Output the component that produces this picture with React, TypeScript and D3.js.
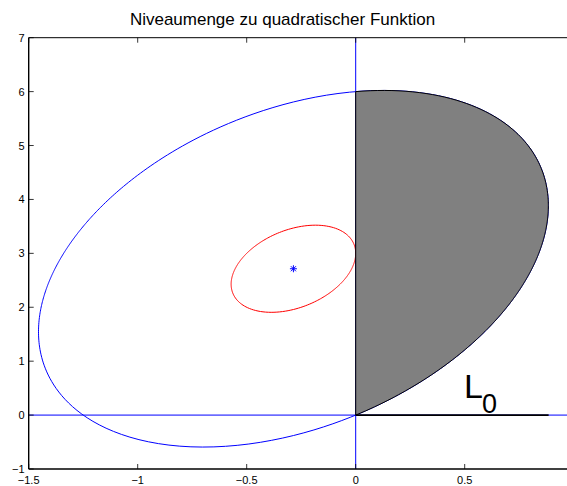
import React from "react";
import * as d3 from "d3";

// Quadratic f(x) = 1/2 x^T Q x + c^T x
const Q: number[][] = [
  [8, -1],
  [-1, 1],
];
const cVec: number[] = [5, -3];

// Level values drawn as contours
const outerLevel = 0; // blue: f = f(0)
const innerLevel = -4.5; // red: f at the constrained minimum on x1 = 0

// Right end of the L0 segment on the x-axis
const l0End = 0.885;

const xTicks: number[] = [-1.5, -1, -0.5, 0, 0.5];
const yTicks: number[] = [-1, 0, 1, 2, 3, 4, 5, 6, 7];
const xDomain: [number, number] = [-1.5, 1];
const yDomain: [number, number] = [-1, 7];

const W = 567;
const H = 486;
const left = 28.7;
const top = 37.7;
const bottom = 469;
const right = left + 2.5 * 218;

const fmt = (v: number) => (v < 0 ? "\u2212" + String(-v) : String(v));

// Minimizer and minimum value of f
const det = Q[0][0] * Q[1][1] - Q[0][1] * Q[1][0];
const Qi = [
  [Q[1][1] / det, -Q[0][1] / det],
  [-Q[1][0] / det, Q[0][0] / det],
];
const center = [
  -(Qi[0][0] * cVec[0] + Qi[0][1] * cVec[1]),
  -(Qi[1][0] * cVec[0] + Qi[1][1] * cVec[1]),
];
const fMin = 0.5 * (cVec[0] * center[0] + cVec[1] * center[1]);

// Point on contour {f = level} in direction angle t from the centre
function contourPoint(level: number, t: number): [number, number] {
  const u = [Math.cos(t), Math.sin(t)];
  const quu =
    Q[0][0] * u[0] * u[0] + 2 * Q[0][1] * u[0] * u[1] + Q[1][1] * u[1] * u[1];
  const r = Math.sqrt((2 * (level - fMin)) / quu);
  return [center[0] + r * u[0], center[1] + r * u[1]];
}

function contour(level: number, t0 = 0, t1 = 2 * Math.PI, n = 400) {
  return d3.range(n + 1).map((i) => contourPoint(level, t0 + ((t1 - t0) * i) / n));
}

export default function App() {
  const x = d3.scaleLinear().domain(xDomain).range([left, right]);
  const y = d3.scaleLinear().domain(yDomain).range([bottom, top]);
  const line = d3
    .line<[number, number]>()
    .x((d) => x(d[0]))
    .y((d) => y(d[1]));

  const outer = contour(outerLevel);
  const inner = contour(innerLevel);

  // Intersections of the outer contour with x1 = 0: y = 0 and y = -2 c2 / Q22
  const yTopCut = (-2 * cVec[1]) / Q[1][1];
  const tLow = Math.atan2(0 - center[1], 0 - center[0]);
  const tHigh = Math.atan2(yTopCut - center[1], 0 - center[0]);
  const arc = contour(outerLevel, tLow, tHigh, 300);
  const patch: [number, number][] = [[0, 0], ...arc, [0, yTopCut]];

  const star = [x(center[0]), y(center[1])];
  const s = 3.5;
  const sd = s * 0.72;

  return (
    <svg
      width={W}
      height={H}
      style={{ position: "absolute", left: 0, top: 0, background: "#fff" }}
      fontFamily="'Liberation Sans', Arial, Helvetica, sans-serif"
    >
      <defs>
        <clipPath id="plotArea">
          <rect x={left} y={top} width={right - left} height={bottom - top} />
        </clipPath>
      </defs>
      <rect x={0} y={0} width={W} height={H} fill="#fff" />

      <g clipPath="url(#plotArea)">
        {/* coordinate axes */}
        <line x1={x(xDomain[0])} x2={x(xDomain[1])} y1={y(0)} y2={y(0)} stroke="#0000ff" strokeWidth={1} />
        <line x1={x(0)} x2={x(0)} y1={y(yDomain[0])} y2={y(yDomain[1])} stroke="#0000ff" strokeWidth={1} />

        <path d={line(outer) ?? ""} fill="none" stroke="#0000ff" strokeWidth={1} />
        <path d={line(inner) ?? ""} fill="none" stroke="#ff0000" strokeWidth={1} />

        {/* minimizer */}
        <g stroke="#0000ff" strokeWidth={1}>
          <line x1={star[0] - s} x2={star[0] + s} y1={star[1]} y2={star[1]} />
          <line x1={star[0]} x2={star[0]} y1={star[1] - s} y2={star[1] + s} />
          <line x1={star[0] - sd} x2={star[0] + sd} y1={star[1] - sd} y2={star[1] + sd} />
          <line x1={star[0] - sd} x2={star[0] + sd} y1={star[1] + sd} y2={star[1] - sd} />
        </g>

        <path d={(line(patch) ?? "") + "Z"} fill="#808080" stroke="#000" strokeWidth={1} />

        <line x1={x(0)} x2={x(l0End)} y1={y(0)} y2={y(0)} stroke="#000" strokeWidth={1.6} />
      </g>

      <text x={464} y={397.5} fontSize={34} fill="#000">L</text>
      <text x={482} y={413} fontSize={27} fill="#000">0</text>

      {/* axes box */}
      <g stroke="#000" fill="none">
        <line x1={left} x2={W} y1={bottom} y2={bottom} strokeWidth={1.4} />
        <line x1={left} x2={W} y1={top} y2={top} strokeWidth={1} />
        <line x1={left} x2={left} y1={top} y2={bottom} strokeWidth={1.4} />
        {xTicks.map((t) => (
          <g key={"xt" + t}>
            <line x1={x(t)} x2={x(t)} y1={bottom} y2={bottom - 5} strokeWidth={0.8} />
            <line x1={x(t)} x2={x(t)} y1={top} y2={top + 5} strokeWidth={0.8} />
          </g>
        ))}
        {yTicks.map((t) => (
          <line key={"yt" + t} x1={left} x2={left + 5} y1={y(t)} y2={y(t)} strokeWidth={0.8} />
        ))}
      </g>

      <g fontSize={11} fill="#000">
        {xTicks.map((t) => (
          <text key={"xl" + t} x={x(t)} y={484} textAnchor="middle">
            {fmt(t)}
          </text>
        ))}
        {yTicks.map((t) => (
          <text key={"yl" + t} x={24.5} y={y(t) + 4} textAnchor="end">
            {fmt(t)}
          </text>
        ))}
      </g>

      <text x={282.5} y={25} fontSize={17} textAnchor="middle" fill="#000">
        Niveaumenge zu quadratischer Funktion
      </text>
    </svg>
  );
}
